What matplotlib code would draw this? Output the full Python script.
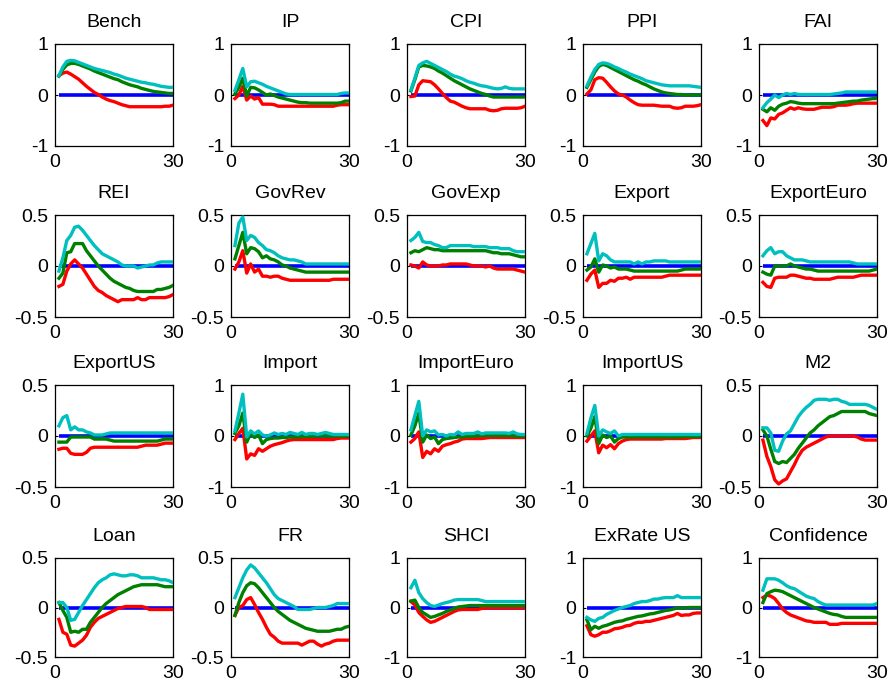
import matplotlib
matplotlib.use("Agg")
import matplotlib.pyplot as plt

plt.rcParams['font.family'] = ['Liberation Sans', 'DejaVu Sans']

periods = list(range(1, 31))

titles = ["Bench", "IP", "CPI", "PPI", "FAI",
          "REI", "GovRev", "GovExp", "Export", "ExportEuro",
          "ExportUS", "Import", "ImportEuro", "ImportUS", "M2",
          "Loan", "FR", "SHCI", "ExRate US", "Confidence"]

ylims = [1, 1, 1, 1, 1,
         0.5, 0.5, 0.5, 0.5, 0.5,
         0.5, 1, 1, 1, 0.5,
         0.5, 0.5, 1, 1, 1]

# lower band (red)
lower = {
"Bench": [0.38, 0.43, 0.45, 0.41, 0.36, 0.31, 0.24, 0.17, 0.11, 0.05, 0.01, -0.04, -0.08, -0.11, -0.13, -0.16, -0.19, -0.21, -0.23, -0.23, -0.23, -0.23, -0.23, -0.23, -0.23, -0.23, -0.23, -0.22, -0.22, -0.2],
"IP": [-0.07, 0.0, 0.17, -0.1, -0.02, -0.08, -0.05, -0.18, -0.18, -0.18, -0.19, -0.22, -0.22, -0.22, -0.22, -0.22, -0.22, -0.22, -0.22, -0.22, -0.22, -0.22, -0.22, -0.22, -0.22, -0.22, -0.2, -0.19, -0.19, -0.19],
"CPI": [-0.03, -0.02, 0.2, 0.28, 0.27, 0.26, 0.2, 0.12, 0.03, -0.05, -0.12, -0.14, -0.18, -0.22, -0.25, -0.27, -0.27, -0.27, -0.27, -0.27, -0.3, -0.31, -0.3, -0.27, -0.26, -0.26, -0.26, -0.26, -0.25, -0.22],
"PPI": [0.02, 0.1, 0.3, 0.34, 0.33, 0.25, 0.16, 0.08, 0.02, 0.0, -0.04, -0.1, -0.15, -0.19, -0.2, -0.2, -0.2, -0.2, -0.21, -0.22, -0.22, -0.22, -0.25, -0.26, -0.25, -0.22, -0.22, -0.22, -0.21, -0.19],
"FAI": [-0.5, -0.6, -0.45, -0.47, -0.38, -0.35, -0.3, -0.25, -0.28, -0.25, -0.27, -0.28, -0.28, -0.28, -0.26, -0.24, -0.24, -0.24, -0.23, -0.2, -0.2, -0.2, -0.19, -0.17, -0.16, -0.16, -0.16, -0.16, -0.16, -0.16],
"REI": [-0.2, -0.18, -0.05, 0.02, 0.06, 0.02, -0.02, -0.08, -0.14, -0.2, -0.24, -0.26, -0.29, -0.31, -0.33, -0.35, -0.33, -0.33, -0.33, -0.33, -0.31, -0.33, -0.33, -0.31, -0.31, -0.31, -0.31, -0.31, -0.3, -0.28],
"GovRev": [-0.03, 0.04, 0.15, -0.07, 0.02, -0.06, -0.03, -0.1, -0.1, -0.11, -0.1, -0.1, -0.12, -0.13, -0.14, -0.14, -0.14, -0.14, -0.14, -0.14, -0.14, -0.14, -0.14, -0.14, -0.14, -0.13, -0.13, -0.13, -0.13, -0.13],
"GovExp": [0.01, 0.0, -0.02, 0.04, 0.01, 0.0, 0.0, 0.0, 0.01, 0.01, 0.02, 0.02, 0.02, 0.02, 0.02, 0.01, 0.0, 0.0, 0.0, -0.01, 0.0, -0.02, -0.03, -0.03, -0.03, -0.03, -0.03, -0.04, -0.05, -0.06],
"Export": [-0.14, -0.08, -0.04, -0.21, -0.17, -0.17, -0.14, -0.15, -0.12, -0.12, -0.11, -0.13, -0.11, -0.11, -0.11, -0.11, -0.11, -0.11, -0.11, -0.11, -0.1, -0.09, -0.09, -0.09, -0.09, -0.09, -0.09, -0.09, -0.09, -0.09],
"ExportEuro": [-0.16, -0.2, -0.21, -0.12, -0.11, -0.11, -0.11, -0.09, -0.09, -0.1, -0.11, -0.12, -0.12, -0.13, -0.13, -0.13, -0.13, -0.13, -0.12, -0.11, -0.11, -0.11, -0.11, -0.11, -0.1, -0.09, -0.09, -0.09, -0.09, -0.09],
"ExportUS": [-0.13, -0.12, -0.12, -0.17, -0.18, -0.18, -0.18, -0.16, -0.12, -0.11, -0.11, -0.11, -0.11, -0.11, -0.11, -0.11, -0.11, -0.11, -0.11, -0.11, -0.11, -0.1, -0.09, -0.09, -0.09, -0.09, -0.08, -0.07, -0.07, -0.07],
"Import": [-0.07, 0.05, 0.15, -0.45, -0.35, -0.38, -0.25, -0.3, -0.25, -0.2, -0.17, -0.15, -0.13, -0.1, -0.08, -0.07, -0.07, -0.07, -0.07, -0.07, -0.07, -0.07, -0.07, -0.07, -0.07, -0.07, -0.05, -0.04, -0.04, -0.04],
"ImportEuro": [-0.12, -0.05, 0.08, -0.42, -0.3, -0.35, -0.25, -0.3, -0.2, -0.17, -0.15, -0.12, -0.1, -0.06, -0.05, -0.05, -0.05, -0.05, -0.05, -0.04, -0.03, -0.03, -0.03, -0.03, -0.03, -0.03, -0.03, -0.03, -0.03, -0.03],
"ImportUS": [-0.1, 0.0, 0.1, -0.33, -0.18, -0.23, -0.17, -0.25, -0.15, -0.1, -0.07, -0.06, -0.06, -0.06, -0.06, -0.06, -0.06, -0.06, -0.06, -0.06, -0.05, -0.05, -0.05, -0.05, -0.05, -0.05, -0.04, -0.03, -0.03, -0.03],
"M2": [-0.04, -0.2, -0.3, -0.43, -0.47, -0.44, -0.42, -0.35, -0.28, -0.2, -0.14, -0.11, -0.09, -0.07, -0.05, -0.03, -0.01, 0.0, 0.0, 0.0, 0.0, 0.0, 0.0, 0.0, -0.01, -0.03, -0.04, -0.04, -0.04, -0.04],
"Loan": [-0.12, -0.25, -0.27, -0.38, -0.39, -0.36, -0.33, -0.28, -0.2, -0.15, -0.11, -0.09, -0.07, -0.05, -0.03, -0.01, 0.0, 0.01, 0.01, 0.01, 0.01, 0.01, 0.0, -0.02, -0.02, -0.02, -0.02, -0.02, -0.02, -0.02],
"FR": [-0.08, 0.0, 0.02, 0.08, 0.1, 0.03, -0.05, -0.12, -0.2, -0.27, -0.3, -0.34, -0.36, -0.36, -0.36, -0.36, -0.36, -0.38, -0.36, -0.34, -0.34, -0.37, -0.39, -0.37, -0.36, -0.34, -0.33, -0.33, -0.33, -0.33],
"SHCI": [0.12, 0.05, -0.1, -0.18, -0.25, -0.3, -0.28, -0.24, -0.2, -0.16, -0.12, -0.08, -0.05, -0.04, -0.04, -0.04, -0.04, -0.04, -0.02, -0.01, -0.01, -0.01, -0.01, -0.01, -0.01, -0.01, -0.01, -0.01, -0.01, -0.01],
"ExRate US": [-0.37, -0.55, -0.58, -0.55, -0.5, -0.5, -0.47, -0.43, -0.42, -0.4, -0.37, -0.36, -0.32, -0.3, -0.3, -0.28, -0.28, -0.26, -0.24, -0.22, -0.2, -0.18, -0.16, -0.12, -0.16, -0.15, -0.15, -0.12, -0.11, -0.11],
"Confidence": [0.2, 0.25, 0.23, 0.18, 0.08, -0.03, -0.1, -0.15, -0.18, -0.21, -0.24, -0.27, -0.28, -0.3, -0.3, -0.3, -0.3, -0.34, -0.34, -0.34, -0.32, -0.32, -0.32, -0.32, -0.32, -0.32, -0.32, -0.32, -0.32, -0.32],
}

# median (green)
median = {
"Bench": [0.37, 0.5, 0.59, 0.62, 0.62, 0.6, 0.57, 0.54, 0.51, 0.47, 0.44, 0.41, 0.38, 0.35, 0.32, 0.3, 0.26, 0.23, 0.2, 0.18, 0.16, 0.13, 0.11, 0.09, 0.07, 0.06, 0.05, 0.04, 0.03, 0.03],
"IP": [0.02, 0.15, 0.33, -0.02, 0.15, 0.14, 0.1, 0.05, 0.0, 0.02, -0.01, -0.04, -0.06, -0.08, -0.1, -0.12, -0.14, -0.15, -0.15, -0.16, -0.16, -0.16, -0.16, -0.16, -0.16, -0.16, -0.16, -0.15, -0.12, -0.12],
"CPI": [0.08, 0.3, 0.55, 0.58, 0.57, 0.55, 0.52, 0.47, 0.43, 0.38, 0.33, 0.28, 0.24, 0.2, 0.16, 0.12, 0.09, 0.06, 0.03, 0.01, -0.02, -0.04, -0.04, -0.04, -0.04, -0.04, -0.04, -0.04, -0.04, -0.04],
"PPI": [0.15, 0.3, 0.45, 0.56, 0.6, 0.58, 0.54, 0.5, 0.46, 0.42, 0.38, 0.34, 0.3, 0.27, 0.23, 0.2, 0.16, 0.12, 0.09, 0.06, 0.04, 0.03, 0.02, 0.01, 0.01, 0.0, 0.0, 0.0, 0.0, 0.0],
"FAI": [-0.28, -0.33, -0.25, -0.3, -0.22, -0.18, -0.16, -0.13, -0.14, -0.16, -0.17, -0.17, -0.17, -0.17, -0.17, -0.17, -0.17, -0.17, -0.17, -0.16, -0.15, -0.14, -0.13, -0.12, -0.12, -0.1, -0.09, -0.08, -0.07, -0.07],
"REI": [-0.12, -0.07, 0.13, 0.14, 0.22, 0.22, 0.22, 0.15, 0.1, 0.05, 0.0, -0.04, -0.08, -0.12, -0.15, -0.17, -0.19, -0.21, -0.22, -0.24, -0.25, -0.25, -0.25, -0.25, -0.25, -0.23, -0.23, -0.22, -0.21, -0.19],
"GovRev": [0.07, 0.2, 0.33, 0.12, 0.18, 0.17, 0.14, 0.08, 0.1, 0.07, 0.06, 0.04, 0.01, 0.0, -0.02, -0.03, -0.04, -0.05, -0.06, -0.06, -0.06, -0.06, -0.06, -0.06, -0.06, -0.06, -0.06, -0.06, -0.06, -0.06],
"GovExp": [0.13, 0.15, 0.14, 0.16, 0.18, 0.17, 0.16, 0.16, 0.15, 0.15, 0.15, 0.15, 0.15, 0.15, 0.15, 0.15, 0.15, 0.15, 0.15, 0.15, 0.14, 0.13, 0.13, 0.12, 0.12, 0.12, 0.11, 0.1, 0.09, 0.09],
"Export": [-0.04, -0.01, 0.07, -0.06, 0.01, 0.0, -0.02, -0.01, -0.03, -0.03, -0.03, -0.04, -0.05, -0.05, -0.05, -0.05, -0.05, -0.05, -0.05, -0.05, -0.05, -0.05, -0.05, -0.05, -0.04, -0.03, -0.03, -0.03, -0.03, -0.03],
"ExportEuro": [-0.06, -0.08, -0.09, 0.0, 0.0, 0.0, 0.0, 0.02, 0.0, -0.01, -0.02, -0.03, -0.03, -0.04, -0.05, -0.05, -0.05, -0.05, -0.05, -0.05, -0.05, -0.05, -0.05, -0.05, -0.05, -0.05, -0.05, -0.05, -0.04, -0.03],
"ExportUS": [-0.06, -0.06, -0.06, -0.01, -0.01, -0.01, -0.01, -0.01, -0.01, -0.03, -0.03, -0.03, -0.03, -0.04, -0.05, -0.05, -0.05, -0.05, -0.05, -0.05, -0.05, -0.05, -0.05, -0.05, -0.05, -0.05, -0.04, -0.03, -0.03, -0.03],
"Import": [0.05, 0.2, 0.45, -0.12, 0.05, -0.03, 0.02, -0.15, -0.07, -0.05, -0.04, -0.04, -0.03, -0.03, -0.02, -0.02, -0.02, -0.01, -0.01, -0.01, 0.0, 0.0, 0.0, 0.0, 0.0, 0.0, 0.0, 0.0, 0.0, 0.0],
"ImportEuro": [0.02, 0.2, 0.45, -0.12, 0.02, -0.05, -0.02, -0.15, -0.07, -0.05, -0.04, -0.03, -0.02, -0.02, -0.01, -0.01, 0.0, 0.0, 0.01, 0.01, 0.01, 0.01, 0.01, 0.01, 0.01, 0.01, 0.0, 0.0, 0.0, 0.0],
"ImportUS": [0.0, 0.15, 0.38, -0.15, 0.02, -0.03, 0.0, -0.12, -0.05, -0.02, -0.02, -0.02, -0.02, -0.02, -0.02, -0.02, -0.02, -0.02, -0.02, -0.02, -0.02, -0.02, -0.02, -0.02, -0.02, -0.01, -0.01, -0.01, -0.01, -0.01],
"M2": [0.06, 0.0, -0.13, -0.25, -0.27, -0.25, -0.26, -0.22, -0.18, -0.12, -0.07, -0.02, 0.03, 0.06, 0.1, 0.13, 0.16, 0.19, 0.2, 0.22, 0.24, 0.24, 0.24, 0.24, 0.24, 0.24, 0.24, 0.22, 0.21, 0.2],
"Loan": [0.05, -0.03, -0.1, -0.25, -0.24, -0.25, -0.22, -0.22, -0.15, -0.1, -0.05, 0.0, 0.04, 0.07, 0.1, 0.13, 0.15, 0.17, 0.19, 0.21, 0.22, 0.23, 0.23, 0.23, 0.23, 0.23, 0.22, 0.21, 0.21, 0.21],
"FR": [-0.08, 0.05, 0.15, 0.22, 0.25, 0.24, 0.2, 0.15, 0.1, 0.05, 0.0, -0.04, -0.07, -0.1, -0.13, -0.15, -0.17, -0.19, -0.21, -0.22, -0.23, -0.24, -0.24, -0.24, -0.24, -0.23, -0.22, -0.22, -0.2, -0.19],
"SHCI": [0.13, 0.15, 0.0, -0.1, -0.15, -0.2, -0.18, -0.15, -0.12, -0.08, -0.05, -0.02, 0.01, 0.02, 0.03, 0.04, 0.04, 0.04, 0.04, 0.04, 0.04, 0.04, 0.04, 0.04, 0.04, 0.04, 0.04, 0.04, 0.04, 0.04],
"ExRate US": [-0.25, -0.45, -0.38, -0.42, -0.38, -0.36, -0.33, -0.3, -0.28, -0.27, -0.24, -0.22, -0.2, -0.18, -0.17, -0.15, -0.13, -0.12, -0.1, -0.08, -0.06, -0.05, -0.03, -0.01, -0.01, -0.01, 0.0, 0.0, 0.0, 0.0],
"Confidence": [0.1, 0.28, 0.32, 0.35, 0.34, 0.32, 0.28, 0.24, 0.2, 0.16, 0.12, 0.08, 0.04, 0.0, -0.03, -0.06, -0.09, -0.12, -0.14, -0.15, -0.18, -0.2, -0.2, -0.2, -0.2, -0.2, -0.2, -0.2, -0.2, -0.2],
}

# upper band (cyan)
upper = {
"Bench": [0.38, 0.55, 0.66, 0.68, 0.67, 0.64, 0.61, 0.58, 0.55, 0.52, 0.5, 0.48, 0.46, 0.44, 0.41, 0.39, 0.36, 0.33, 0.31, 0.29, 0.27, 0.25, 0.24, 0.22, 0.21, 0.19, 0.17, 0.16, 0.15, 0.15],
"IP": [0.09, 0.3, 0.52, 0.16, 0.26, 0.27, 0.24, 0.21, 0.17, 0.14, 0.11, 0.08, 0.05, 0.02, 0.01, 0.01, 0.01, 0.01, 0.01, 0.01, 0.01, 0.01, 0.01, 0.01, 0.01, 0.01, 0.01, 0.03, 0.04, 0.04],
"CPI": [0.1, 0.33, 0.58, 0.63, 0.66, 0.62, 0.58, 0.54, 0.5, 0.46, 0.41, 0.37, 0.35, 0.32, 0.28, 0.25, 0.23, 0.2, 0.18, 0.17, 0.15, 0.13, 0.12, 0.13, 0.16, 0.13, 0.12, 0.12, 0.12, 0.12],
"PPI": [0.18, 0.35, 0.5, 0.6, 0.63, 0.62, 0.59, 0.55, 0.52, 0.48, 0.45, 0.41, 0.38, 0.35, 0.32, 0.28, 0.26, 0.24, 0.22, 0.2, 0.19, 0.18, 0.18, 0.18, 0.18, 0.18, 0.18, 0.17, 0.16, 0.15],
"FAI": [-0.25, -0.15, -0.08, 0.0, -0.05, 0.0, 0.03, 0.01, 0.03, 0.01, 0.01, 0.01, 0.01, 0.01, 0.01, 0.01, 0.01, 0.01, 0.02, 0.03, 0.04, 0.06, 0.06, 0.06, 0.06, 0.06, 0.06, 0.06, 0.06, 0.06],
"REI": [-0.05, 0.08, 0.25, 0.3, 0.38, 0.39, 0.35, 0.3, 0.25, 0.2, 0.16, 0.12, 0.1, 0.08, 0.06, 0.04, 0.01, 0.0, 0.0, 0.0, -0.02, -0.01, 0.0, 0.01, 0.01, 0.03, 0.04, 0.04, 0.04, 0.04],
"GovRev": [0.2, 0.42, 0.48, 0.25, 0.3, 0.28, 0.23, 0.2, 0.16, 0.15, 0.13, 0.1, 0.08, 0.07, 0.06, 0.06, 0.05, 0.04, 0.02, 0.02, 0.02, 0.02, 0.02, 0.02, 0.02, 0.02, 0.02, 0.02, 0.02, 0.02],
"GovExp": [0.25, 0.28, 0.33, 0.24, 0.23, 0.23, 0.21, 0.2, 0.18, 0.18, 0.2, 0.2, 0.2, 0.2, 0.2, 0.2, 0.19, 0.19, 0.19, 0.19, 0.18, 0.18, 0.18, 0.17, 0.17, 0.17, 0.15, 0.14, 0.14, 0.14],
"Export": [0.12, 0.22, 0.32, 0.05, 0.12, 0.1, 0.06, 0.04, 0.04, 0.04, 0.04, 0.04, 0.02, 0.04, 0.02, 0.04, 0.04, 0.05, 0.05, 0.05, 0.05, 0.04, 0.04, 0.04, 0.04, 0.04, 0.04, 0.04, 0.04, 0.04],
"ExportEuro": [0.1, 0.15, 0.18, 0.12, 0.14, 0.14, 0.1, 0.08, 0.06, 0.06, 0.06, 0.05, 0.04, 0.04, 0.04, 0.04, 0.04, 0.04, 0.04, 0.04, 0.04, 0.04, 0.04, 0.03, 0.02, 0.02, 0.02, 0.02, 0.02, 0.02],
"ExportUS": [0.1, 0.18, 0.2, 0.06, 0.09, 0.06, 0.06, 0.04, 0.03, 0.01, 0.01, 0.01, 0.02, 0.03, 0.03, 0.03, 0.03, 0.03, 0.03, 0.03, 0.03, 0.03, 0.03, 0.03, 0.03, 0.03, 0.03, 0.03, 0.03, 0.03],
"Import": [0.1, 0.45, 0.82, -0.02, 0.1, 0.04, 0.1, 0.02, 0.0, 0.02, 0.06, 0.03, 0.05, 0.03, 0.07, 0.05, 0.03, 0.07, 0.03, 0.05, 0.05, 0.03, 0.05, 0.07, 0.05, 0.03, 0.03, 0.03, 0.03, 0.03],
"ImportEuro": [0.12, 0.4, 0.68, 0.0, 0.12, 0.08, 0.1, 0.02, 0.03, 0.0, 0.03, 0.02, 0.08, 0.03, 0.05, 0.05, 0.05, 0.08, 0.04, 0.06, 0.06, 0.06, 0.06, 0.06, 0.06, 0.05, 0.08, 0.04, 0.03, 0.03],
"ImportUS": [0.05, 0.35, 0.6, 0.0, 0.12, 0.08, 0.05, 0.1, 0.0, 0.03, 0.03, 0.03, 0.03, 0.03, 0.03, 0.03, 0.03, 0.03, 0.03, 0.03, 0.03, 0.03, 0.03, 0.03, 0.03, 0.03, 0.03, 0.03, 0.03, 0.03],
"M2": [0.08, 0.08, 0.03, -0.14, -0.15, -0.05, 0.02, 0.05, 0.12, 0.19, 0.24, 0.28, 0.31, 0.35, 0.36, 0.36, 0.36, 0.35, 0.36, 0.36, 0.34, 0.33, 0.31, 0.31, 0.31, 0.31, 0.31, 0.3, 0.28, 0.26],
"Loan": [0.05, 0.05, 0.0, -0.13, -0.12, -0.05, 0.02, 0.08, 0.14, 0.2, 0.25, 0.28, 0.3, 0.33, 0.34, 0.33, 0.32, 0.32, 0.33, 0.33, 0.32, 0.3, 0.3, 0.3, 0.3, 0.29, 0.28, 0.28, 0.27, 0.25],
"FR": [0.1, 0.2, 0.3, 0.38, 0.43, 0.4, 0.35, 0.3, 0.25, 0.19, 0.13, 0.09, 0.07, 0.05, 0.03, 0.01, -0.02, -0.02, -0.02, -0.02, -0.01, 0.0, 0.0, 0.0, 0.01, 0.02, 0.04, 0.04, 0.04, 0.04],
"SHCI": [0.4, 0.55, 0.3, 0.18, 0.1, 0.04, 0.02, 0.05, 0.08, 0.1, 0.12, 0.15, 0.16, 0.16, 0.16, 0.16, 0.16, 0.16, 0.14, 0.12, 0.12, 0.12, 0.12, 0.12, 0.12, 0.12, 0.12, 0.12, 0.12, 0.12],
"ExRate US": [-0.2, -0.25, -0.28, -0.22, -0.2, -0.14, -0.1, -0.06, -0.03, 0.0, 0.02, 0.04, 0.08, 0.1, 0.12, 0.12, 0.14, 0.17, 0.17, 0.19, 0.2, 0.2, 0.2, 0.24, 0.2, 0.2, 0.2, 0.2, 0.2, 0.2],
"Confidence": [0.35, 0.58, 0.58, 0.58, 0.55, 0.5, 0.44, 0.4, 0.38, 0.33, 0.28, 0.23, 0.2, 0.18, 0.12, 0.08, 0.05, 0.05, 0.05, 0.05, 0.05, 0.05, 0.05, 0.05, 0.05, 0.05, 0.05, 0.05, 0.05, 0.08],
}

W, H = 892, 688
fig = plt.figure(figsize=(W / 100, H / 100), dpi=100)

col_left = [55, 231, 407, 583, 759]
row_top = [44, 215, 385, 558]
row_h = [102, 102, 102, 99]
ax_w = 118

FS = 14
for i, name in enumerate(titles):
    r, c = divmod(i, 5)
    x0 = col_left[c] / W
    y0 = 1 - (row_top[r] + row_h[r]) / H
    ax = fig.add_axes([x0, y0, ax_w / W, row_h[r] / H])
    lim = ylims[i]
    ax.hlines(0, periods[0], periods[-1], color=(0, 0, 1), lw=2.6, zorder=2)
    ax.plot(periods, lower[name], color=(1, 0, 0), lw=2.4, zorder=3)
    ax.plot(periods, median[name], color=(0, 0.5, 0), lw=2.4, zorder=4)
    ax.plot(periods, upper[name], color=(0, 0.75, 0.75), lw=2.4, zorder=5)
    ax.set_xlim(0, 30)
    ax.set_ylim(-lim, lim)
    ax.set_xticks([0, 30])
    ax.set_yticks([-lim, 0, lim])
    if lim == 1:
        ax.set_yticklabels(["-1", "0", "1"])
    else:
        ax.set_yticklabels(["-0.5", "0", "0.5"])
    ax.set_xticklabels(["0", "30"])
    ax.tick_params(direction='in', length=2, width=0.8, labelsize=FS,
                   top=True, right=True, pad=6)
    ax.tick_params(axis='y', pad=5)
    for s in ax.spines.values():
        s.set_linewidth(0.9)
    ax.set_title(name, fontsize=FS, pad=12)

fig.savefig("out.png", dpi=100)
